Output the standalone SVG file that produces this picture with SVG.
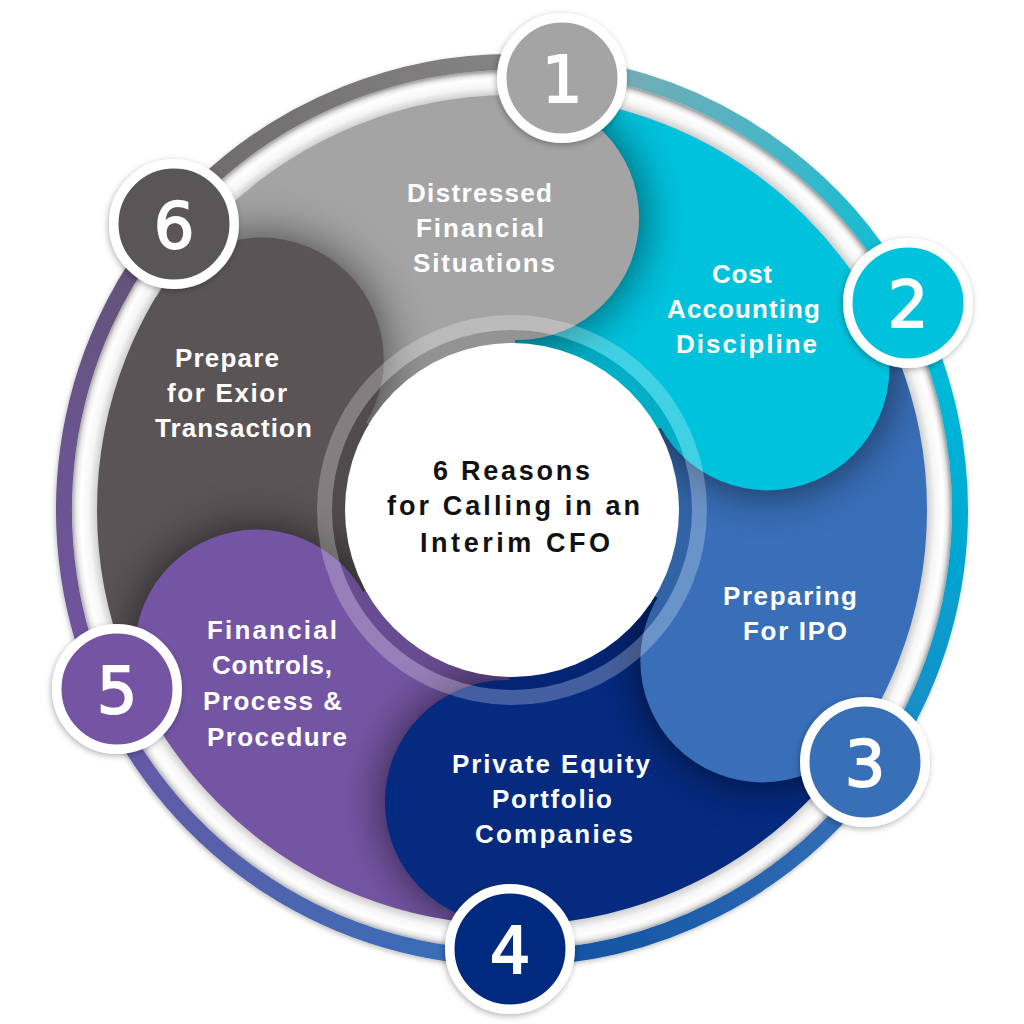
<svg xmlns="http://www.w3.org/2000/svg" xmlns:xlink="http://www.w3.org/1999/xlink" width="1024" height="1024" viewBox="0 0 1024 1024">
<style>
.lbl{font-family:"Liberation Sans",Arial,sans-serif;font-weight:700;font-size:26px;fill:#ffffff}
.ctr{font-family:"Liberation Sans",Arial,sans-serif;font-weight:700;font-size:27px;fill:#111111}
.num{font-family:"DejaVu Sans",sans-serif;font-size:64px;fill:#ffffff;stroke:#ffffff;stroke-width:1.8;text-anchor:middle}
.badge{stroke:#ffffff;stroke-width:9.5}
.shadow{fill:#000000;opacity:0.62}
.seg{fill:none;stroke-width:16}
</style>
<defs>
<path id="s1" d="M152.0,293.7 A420,420 0 0 1 519.3,90.1 L514.8,350.0 A160,160 0 0 0 374.9,427.6 Z"/>
<path id="s2" d="M519.3,90.1 A420,420 0 0 1 879.3,306.4 L651.9,432.4 A160,160 0 0 0 514.8,350.0 Z"/>
<path id="s3" d="M879.3,306.4 A420,420 0 0 1 872.0,726.3 L649.1,592.4 A160,160 0 0 0 651.9,432.4 Z"/>
<path id="s4" d="M872.0,726.3 A420,420 0 0 1 504.7,929.9 L509.2,670.0 A160,160 0 0 0 649.1,592.4 Z"/>
<path id="s5" d="M504.7,929.9 A420,420 0 0 1 144.7,713.6 L372.1,587.6 A160,160 0 0 0 509.2,670.0 Z"/>
<path id="s6" d="M144.7,713.6 A420,420 0 0 1 152.0,293.7 L374.9,427.6 A160,160 0 0 0 372.1,587.6 Z"/>
<clipPath id="c1"><use xlink:href="#s1"/></clipPath>
<clipPath id="c2"><use xlink:href="#s2"/></clipPath>
<clipPath id="c3"><use xlink:href="#s3"/></clipPath>
<clipPath id="c4"><use xlink:href="#s4"/></clipPath>
<clipPath id="c5"><use xlink:href="#s5"/></clipPath>
<clipPath id="c6"><use xlink:href="#s6"/></clipPath>
<filter id="blur" x="-60%" y="-60%" width="220%" height="220%"><feGaussianBlur stdDeviation="24"/></filter>
<filter id="bshadow" x="-30%" y="-30%" width="160%" height="160%"><feDropShadow dx="-1" dy="2" stdDeviation="3" flood-color="#000" flood-opacity="0.3"/></filter>
<filter id="rshadow" x="-10%" y="-10%" width="120%" height="120%"><feDropShadow dx="-1" dy="2" stdDeviation="2.5" flood-color="#000" flood-opacity="0.25"/></filter>
<radialGradient id="gap" gradientUnits="userSpaceOnUse" cx="512" cy="510" r="440">
<stop offset="0.943" stop-color="#cfcfcf"/>
<stop offset="0.962" stop-color="#f6f6f6"/>
<stop offset="0.98" stop-color="#ffffff"/>
<stop offset="0.99" stop-color="#ececec"/>
<stop offset="1" stop-color="#bdbdbd"/>
</radialGradient>
<linearGradient id="g61" gradientUnits="userSpaceOnUse" x1="169.8" y1="220.8" x2="563.5" y2="65.0"><stop offset="0" stop-color="#6c6869"/><stop offset="1" stop-color="#888686"/></linearGradient>
<linearGradient id="g12" gradientUnits="userSpaceOnUse" x1="563.5" y1="65.0" x2="909.0" y2="302.4"><stop offset="0" stop-color="#80a9b0"/><stop offset="0.5" stop-color="#4bb5c5"/><stop offset="1" stop-color="#00bfd8"/></linearGradient>
<linearGradient id="g23" gradientUnits="userSpaceOnUse" x1="909.0" y1="302.4" x2="876.7" y2="770.2"><stop offset="0" stop-color="#00c0da"/><stop offset="0.5" stop-color="#00a8d2"/><stop offset="1" stop-color="#1e86c4"/></linearGradient>
<linearGradient id="g34" gradientUnits="userSpaceOnUse" x1="876.7" y1="770.2" x2="509.7" y2="958.0"><stop offset="0" stop-color="#3a72ba"/><stop offset="1" stop-color="#0a4e9e"/></linearGradient>
<linearGradient id="g45" gradientUnits="userSpaceOnUse" x1="509.7" y1="958.0" x2="104.0" y2="695.1"><stop offset="0" stop-color="#3270bb"/><stop offset="0.5" stop-color="#4f64ae"/><stop offset="1" stop-color="#6a56a4"/></linearGradient>
<linearGradient id="g56" gradientUnits="userSpaceOnUse" x1="104.0" y1="695.1" x2="169.8" y2="220.8"><stop offset="0" stop-color="#7053a1"/><stop offset="0.5" stop-color="#6a5490"/><stop offset="1" stop-color="#625272"/></linearGradient>
</defs>

<g id="petal-shapes">
<use xlink:href="#s1" fill="#a4a4a4"/>
<use xlink:href="#s2" fill="#00c2dc"/>
<use xlink:href="#s3" fill="#386fb8"/>
<use xlink:href="#s4" fill="#052a80"/>
<use xlink:href="#s5" fill="#7455a3"/>
<use xlink:href="#s6" fill="#5a5456"/>
<g clip-path="url(#c1)"><circle class="shadow" cx="261.7" cy="359.6" r="122" filter="url(#blur)"/></g>
<g clip-path="url(#c2)"><circle class="shadow" cx="517.1" cy="218.0" r="122" filter="url(#blur)"/></g>
<g clip-path="url(#c3)"><circle class="shadow" cx="767.4" cy="368.4" r="122" filter="url(#blur)"/></g>
<g clip-path="url(#c4)"><circle class="shadow" cx="762.3" cy="660.4" r="122" filter="url(#blur)"/></g>
<g clip-path="url(#c5)"><circle class="shadow" cx="506.9" cy="802.0" r="122" filter="url(#blur)"/></g>
<g clip-path="url(#c6)"><circle class="shadow" cx="256.6" cy="651.6" r="122" filter="url(#blur)"/></g>
<circle cx="517.1" cy="218.0" r="122" fill="#a4a4a4"/>
<circle cx="767.4" cy="368.4" r="122" fill="#00c2dc"/>
<circle cx="762.3" cy="660.4" r="122" fill="#386fb8"/>
<circle cx="506.9" cy="802.0" r="122" fill="#052a80"/>
<circle cx="256.6" cy="651.6" r="122" fill="#7455a3"/>
<circle cx="261.7" cy="359.6" r="122" fill="#5a5456"/>
</g>

<g id="rings">
<circle cx="512" cy="510" r="427.5" fill="none" stroke="url(#gap)" stroke-width="25"/>
<g filter="url(#rshadow)">
<path class="seg" stroke="url(#g61)" d="M169.8,220.8 A448,448 0 0 1 563.5,65.0"/>
<path class="seg" stroke="url(#g12)" d="M563.5,65.0 A448,448 0 0 1 909.0,302.4"/>
<path class="seg" stroke="url(#g23)" d="M909.0,302.4 A448,448 0 0 1 876.7,770.2"/>
<path class="seg" stroke="url(#g34)" d="M876.7,770.2 A448,448 0 0 1 509.7,958.0"/>
<path class="seg" stroke="url(#g45)" d="M509.7,958.0 A448,448 0 0 1 104.0,695.1"/>
<path class="seg" stroke="url(#g56)" d="M104.0,695.1 A448,448 0 0 1 169.8,220.8"/>
</g>
</g>

<g id="center">
<circle cx="512" cy="510" r="187.5" fill="none" stroke="#ffffff" stroke-opacity="0.25" stroke-width="15"/>
<circle cx="512" cy="510" r="173.5" fill="none" stroke="#000000" stroke-opacity="0.1" stroke-width="13"/>
<circle cx="512" cy="510" r="167" fill="#ffffff"/>
<text class="ctr" x="433" y="480" textLength="157" lengthAdjust="spacing">6 Reasons</text>
<text class="ctr" x="387" y="515" textLength="253" lengthAdjust="spacing">for Calling in an</text>
<text class="ctr" x="420" y="552" textLength="190" lengthAdjust="spacing">Interim CFO</text>
</g>

<g id="node-1">
<circle class="badge" cx="562" cy="78" r="60.25" fill="#a4a4a4" filter="url(#bshadow)"/>
<text class="num" x="562" y="101.5">1</text>
<text class="lbl" x="407" y="202" textLength="145" lengthAdjust="spacing">Distressed</text>
<text class="lbl" x="416" y="237" textLength="128" lengthAdjust="spacing">Financial</text>
<text class="lbl" x="413" y="272" textLength="142" lengthAdjust="spacing">Situations</text>
</g>
<g id="node-2">
<circle class="badge" cx="908" cy="303" r="60.25" fill="#00c2dc" filter="url(#bshadow)"/>
<text class="num" x="908" y="326.5">2</text>
<text class="lbl" x="712" y="283" textLength="60" lengthAdjust="spacing">Cost</text>
<text class="lbl" x="667" y="318" textLength="153" lengthAdjust="spacing">Accounting</text>
<text class="lbl" x="676" y="353" textLength="141" lengthAdjust="spacing">Discipline</text>
</g>
<g id="node-3">
<circle class="badge" cx="865" cy="762" r="60.25" fill="#386fb8" filter="url(#bshadow)"/>
<text class="num" x="865" y="785.5">3</text>
<text class="lbl" x="723" y="605" textLength="134" lengthAdjust="spacing">Preparing</text>
<text class="lbl" x="743" y="640" textLength="104" lengthAdjust="spacing">For IPO</text>
</g>
<g id="node-4">
<circle class="badge" cx="510" cy="949" r="60.25" fill="#052a80" filter="url(#bshadow)"/>
<text class="num" x="510" y="972.5">4</text>
<text class="lbl" x="452" y="773" textLength="198" lengthAdjust="spacing">Private Equity</text>
<text class="lbl" x="492" y="808" textLength="120" lengthAdjust="spacing">Portfolio</text>
<text class="lbl" x="475" y="843" textLength="158" lengthAdjust="spacing">Companies</text>
</g>
<g id="node-5">
<circle class="badge" cx="117" cy="689" r="60.25" fill="#7455a3" filter="url(#bshadow)"/>
<text class="num" x="117" y="712.5">5</text>
<text class="lbl" x="207" y="639" textLength="130" lengthAdjust="spacing">Financial</text>
<text class="lbl" x="212" y="674" textLength="120" lengthAdjust="spacing">Controls,</text>
<text class="lbl" x="203" y="710" textLength="139" lengthAdjust="spacing">Process &amp;</text>
<text class="lbl" x="207" y="746" textLength="140" lengthAdjust="spacing">Procedure</text>
</g>
<g id="node-6">
<circle class="badge" cx="174" cy="224" r="60.25" fill="#5a5456" filter="url(#bshadow)"/>
<text class="num" x="174" y="247.5">6</text>
<text class="lbl" x="175" y="367" textLength="104" lengthAdjust="spacing">Prepare</text>
<text class="lbl" x="167" y="402" textLength="120" lengthAdjust="spacing">for Exior</text>
<text class="lbl" x="155" y="437" textLength="157" lengthAdjust="spacing">Transaction</text>
</g>
</svg>
